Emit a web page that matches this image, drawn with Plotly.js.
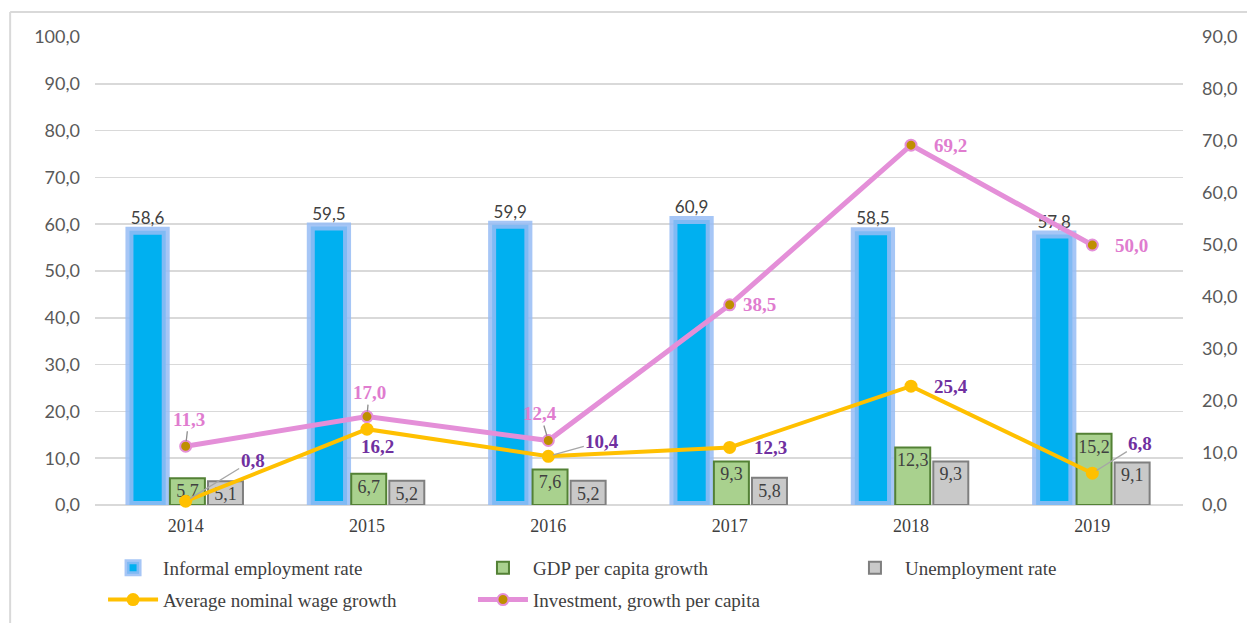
<!DOCTYPE html>
<html>
<head>
<meta charset="utf-8">
<script src="https://cdn.plot.ly/plotly-3.0.1.min.js"></script>
<style>
  html, body { margin: 0; padding: 0; background: #fff; overflow: hidden; }
  #chart { width: 1247px; height: 635px; }
</style>
</head>
<body>
<div id="chart"></div>
<script>
// ---- data ----
const years = ['2014', '2015', '2016', '2017', '2018', '2019'];
const informalEmployment = [58.6, 59.5, 59.9, 60.9, 58.5, 57.8];
const gdpPerCapitaGrowth = [5.7, 6.7, 7.6, 9.3, 12.3, 15.2];
const unemploymentRate = [5.1, 5.2, 5.2, 5.8, 9.3, 9.1];
const nominalWageGrowth = [0.8, 16.2, 10.4, 12.3, 25.4, 6.8];
const investmentGrowth = [11.3, 17.0, 12.4, 38.5, 69.2, 50.0];

const leftTicks = [0, 10, 20, 30, 40, 50, 60, 70, 80, 90, 100];
const rightTicks = [0, 10, 20, 30, 40, 50, 60, 70, 80, 90];

// ---- label placement (style) ----
const wageLabelOffset = [[67, -41, true], [10, 17, false], [54, -15, true], [41, 0, false], [40, 0, false], [48, -30, true]];
const invLabelOffset = [[3, -27, true], [2, -24, true], [-8, -27, true], [30, 0, false], [39, 0, false], [39, 0, false]];

const serif = '"Liberation Serif", "Times New Roman", serif';
const sans = 'Lato, "Open Sans", sans-serif';
const fmt = v => v.toFixed(1).replace('.', ',');

const traces = [
  {
    type: 'bar', name: 'Informal employment rate', x: years, y: informalEmployment,
    legend: 'legend', legendgroup: 'g1',
    offset: -0.31, width: 0.2,
    marker: { color: '#00b0f0', line: { color: 'rgba(150,188,245,0.85)', width: 8 } },
    texttemplate: '%{y:.1f}', textposition: 'outside', cliponaxis: false, textangle: 0,
    textfont: { family: sans, size: 17, color: '#404040' }, constraintext: 'none',
    hoverinfo: 'skip'
  },
  {
    type: 'bar', name: 'GDP per capita growth', x: years, y: gdpPerCapitaGrowth,
    legend: 'legend2', legendgroup: 'g2',
    offset: -0.087, width: 0.193,
    marker: { color: '#a9d18e', line: { color: '#538135', width: 2 } },
    texttemplate: '%{y:.1f}', textposition: 'inside', insidetextanchor: 'end', textangle: 0,
    textfont: { family: serif, size: 18, color: '#404040' }, constraintext: 'none',
    hoverinfo: 'skip'
  },
  {
    type: 'bar', name: 'Unemployment rate', x: years, y: unemploymentRate,
    legend: 'legend3', legendgroup: 'g3',
    offset: 0.123, width: 0.193,
    marker: { color: '#c9c9c9', line: { color: '#7f7f7f', width: 2 } },
    texttemplate: '%{y:.1f}', textposition: 'inside', insidetextanchor: 'end', textangle: 0,
    textfont: { family: serif, size: 18, color: '#404040' }, constraintext: 'none',
    hoverinfo: 'skip'
  },
  {
    type: 'scatter', mode: 'lines+markers', name: 'Average nominal wage growth',
    legend: 'legend', legendgroup: 'g4',
    x: years, y: nominalWageGrowth, yaxis: 'y',
    line: { color: '#ffc000', width: 4 },
    marker: { color: '#ffc000', size: 13 },
    cliponaxis: false, hoverinfo: 'skip'
  },
  {
    type: 'scatter', mode: 'lines+markers', name: 'Investment, growth per capita',
    legend: 'legend2', legendgroup: 'g5',
    x: years, y: investmentGrowth, yaxis: 'y2',
    line: { color: '#e48fd8', width: 5 },
    marker: { color: '#bf8f00', size: 11, line: { color: '#e48fd8', width: 2 } },
    cliponaxis: false, hoverinfo: 'skip'
  }
];

const annotations = [];
years.forEach((yr, i) => {
  const w = wageLabelOffset[i];
  const a = {
    x: i, y: nominalWageGrowth[i], xref: 'x', yref: 'y',
    text: '<b>' + fmt(nominalWageGrowth[i]) + '</b>',
    font: { family: serif, size: 19, color: '#7030a0' }
  };
  if (w[2]) {
    Object.assign(a, { showarrow: true, arrowhead: 0, arrowwidth: 1.3, arrowcolor: '#a6a6a6', ax: w[0], ay: w[1], standoff: 5 });
  } else {
    Object.assign(a, { showarrow: false, xshift: w[0], yshift: -w[1] });
  }
  annotations.push(a);

  const v = invLabelOffset[i];
  const b = {
    x: i, y: investmentGrowth[i], xref: 'x', yref: 'y2',
    text: '<b>' + fmt(investmentGrowth[i]) + '</b>',
    font: { family: serif, size: 19, color: '#e07ccf' }
  };
  if (v[2]) {
    Object.assign(b, { showarrow: true, arrowhead: 0, arrowwidth: 1.3, arrowcolor: '#8c8c8c', ax: v[0], ay: v[1], standoff: 5 });
  } else {
    Object.assign(b, { showarrow: false, xshift: v[0], yshift: -v[1] });
  }
  annotations.push(b);
});

function legendAt(xFrac) {
  return {
    orientation: 'v', xref: 'paper', yref: 'paper',
    x: xFrac, xanchor: 'left', y: -0.094, yanchor: 'top',
    itemwidth: 50, tracegroupgap: 4,
    font: { family: serif, size: 19, color: '#404040' },
    bgcolor: 'rgba(0,0,0,0)'
  };
}

const layout = {
  width: 1247, height: 635,
  margin: { l: 95, r: 64, t: 37, b: 130 },
  paper_bgcolor: '#ffffff', plot_bgcolor: '#ffffff',
  separators: ', ',
  barmode: 'overlay',
  showlegend: true,
  xaxis: {
    type: 'category', categoryarray: years, range: [-0.5, 5.5],
    showgrid: false, showline: false, zeroline: false, ticks: '', ticklabelstandoff: 8,
    tickfont: { family: serif, size: 18, color: '#404040' }
  },
  yaxis: {
    range: [0, 100], tickvals: leftTicks, tickformat: '.1f',
    showgrid: true, gridcolor: '#d9d9d9', gridwidth: 1.5,
    zeroline: true, zerolinecolor: '#d9d9d9', zerolinewidth: 1.5,
    showline: false, ticks: '', ticklabelstandoff: 14,
    tickfont: { family: sans, size: 18, color: '#595959' }
  },
  yaxis2: {
    overlaying: 'y', side: 'right', range: [0, 90], tickvals: rightTicks, tickformat: '.1f',
    showgrid: false, zeroline: false, showline: false, ticks: '', ticklabelstandoff: 18,
    tickfont: { family: sans, size: 18, color: '#595959' }
  },
  legend: legendAt(0.0074),
  legend2: legendAt(0.3474),
  legend3: legendAt(0.6893),
  annotations: annotations,
  shapes: [
    { type: 'line', xref: 'paper', yref: 'paper', x0: -0.078, x1: 1.2, y0: 1.0534, y1: 1.0534, line: { color: '#d9d9d9', width: 2 } },
    { type: 'line', xref: 'paper', yref: 'paper', x0: -0.078, x1: -0.078, y0: 1.0534, y1: -0.3, line: { color: '#d9d9d9', width: 2 } }
  ]
};

Plotly.newPlot('chart', traces, layout, { displayModeBar: false, staticPlot: true });
</script>
</body>
</html>
